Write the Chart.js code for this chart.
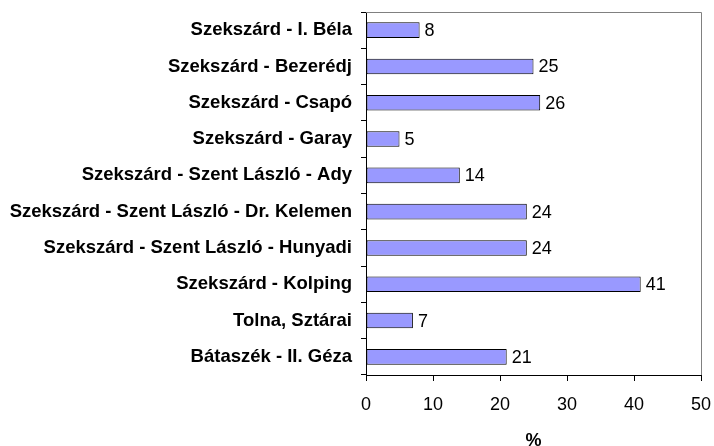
<!DOCTYPE html>
<html>
<head>
<meta charset="utf-8">
<script src="https://cdn.jsdelivr.net/npm/chart.js@4/dist/chart.umd.min.js"></script>
<style>
  html, body { margin: 0; padding: 0; background: #fff; }
  #wrap { width: 714px; height: 446px; }
</style>
</head>
<body>
<div id="wrap"><canvas id="myChart"></canvas></div>
<script>
const categories = [
    'Szekszárd - I. Béla',
    'Szekszárd - Bezerédj',
    'Szekszárd - Csapó',
    'Szekszárd - Garay',
    'Szekszárd - Szent László - Ady',
    'Szekszárd - Szent László - Dr. Kelemen',
    'Szekszárd - Szent László - Hunyadi',
    'Szekszárd - Kolping',
    'Tolna, Sztárai',
    'Bátaszék - II. Géza'
];
const values = [8, 25, 26, 5, 14, 24, 24, 41, 7, 21];
const xTicks = [0, 10, 20, 30, 40, 50];
const axisTitle = '%';

const FONT = '"Liberation Sans", Arial, sans-serif';

// value labels next to the bars + grey frame on top/right
const extras = {
    id: 'extras',
    afterDatasetsDraw(chart) {
        const ctx = chart.ctx;
        const area = chart.chartArea;
        ctx.save();
        ctx.strokeStyle = '#808080';
        ctx.lineWidth = 1;
        ctx.beginPath();
        ctx.moveTo(area.left, area.top + 0.5);
        ctx.lineTo(area.right + 0.5, area.top + 0.5);
        ctx.lineTo(area.right + 0.5, area.bottom);
        ctx.stroke();

        ctx.fillStyle = '#000';
        ctx.font = '18px ' + FONT;
        ctx.textBaseline = 'middle';
        ctx.textAlign = 'left';
        chart.getDatasetMeta(0).data.forEach((bar, i) => {
            ctx.fillText(values[i], bar.x + 5, bar.y + 1);
        });
        ctx.restore();
    }
};

const ctx = document.getElementById('myChart').getContext('2d');
const myChart = new Chart(ctx, {
    type: 'bar',
    data: {
        labels: categories,
        datasets: [{
            data: values,
            backgroundColor: '#9999ff',
            borderColor: '#000000',
            borderWidth: 1,
            borderSkipped: false,
            barPercentage: 0.43,
            categoryPercentage: 1
        }]
    },
    options: {
        indexAxis: 'y',
        responsive: true,
        maintainAspectRatio: false,
        animation: false,
        layout: { padding: { top: 12, right: 13, left: 0, bottom: 0 } },
        plugins: {
            legend: { display: false },
            tooltip: { enabled: false }
        },
        scales: {
            x: {
                min: 0,
                max: 50,
                afterBuildTicks: function(scale) {
                    scale.ticks = xTicks.map(v => ({ value: v }));
                },
                grid: { drawOnChartArea: false, tickLength: 6, color: '#000' },
                border: { color: '#000' },
                ticks: {
                    color: '#000',
                    padding: 13,
                    font: { family: FONT, size: 18 }
                },
                title: {
                    display: true,
                    text: axisTitle,
                    color: '#000',
                    padding: { top: 0, bottom: -6 },
                    font: { family: FONT, size: 18, weight: 'bold' }
                },
                afterFit: function(scale) {
                    scale.height = 71;
                    scale.paddingLeft = 0;
                    scale.paddingRight = 0;
                }
            },
            y: {
                grid: { drawOnChartArea: false, tickLength: 5, color: '#000', offset: true },
                border: { color: '#000' },
                ticks: {
                    color: '#000',
                    padding: 9,
                    autoSkip: false,
                    font: { family: FONT, size: 18.5, weight: 'bold' }
                },
                afterFit: function(scale) {
                    scale.width = 366;
                    scale.paddingTop = 0;
                    scale.paddingBottom = 0;
                }
            }
        }
    },
    plugins: [extras]
});
</script>
</body>
</html>
